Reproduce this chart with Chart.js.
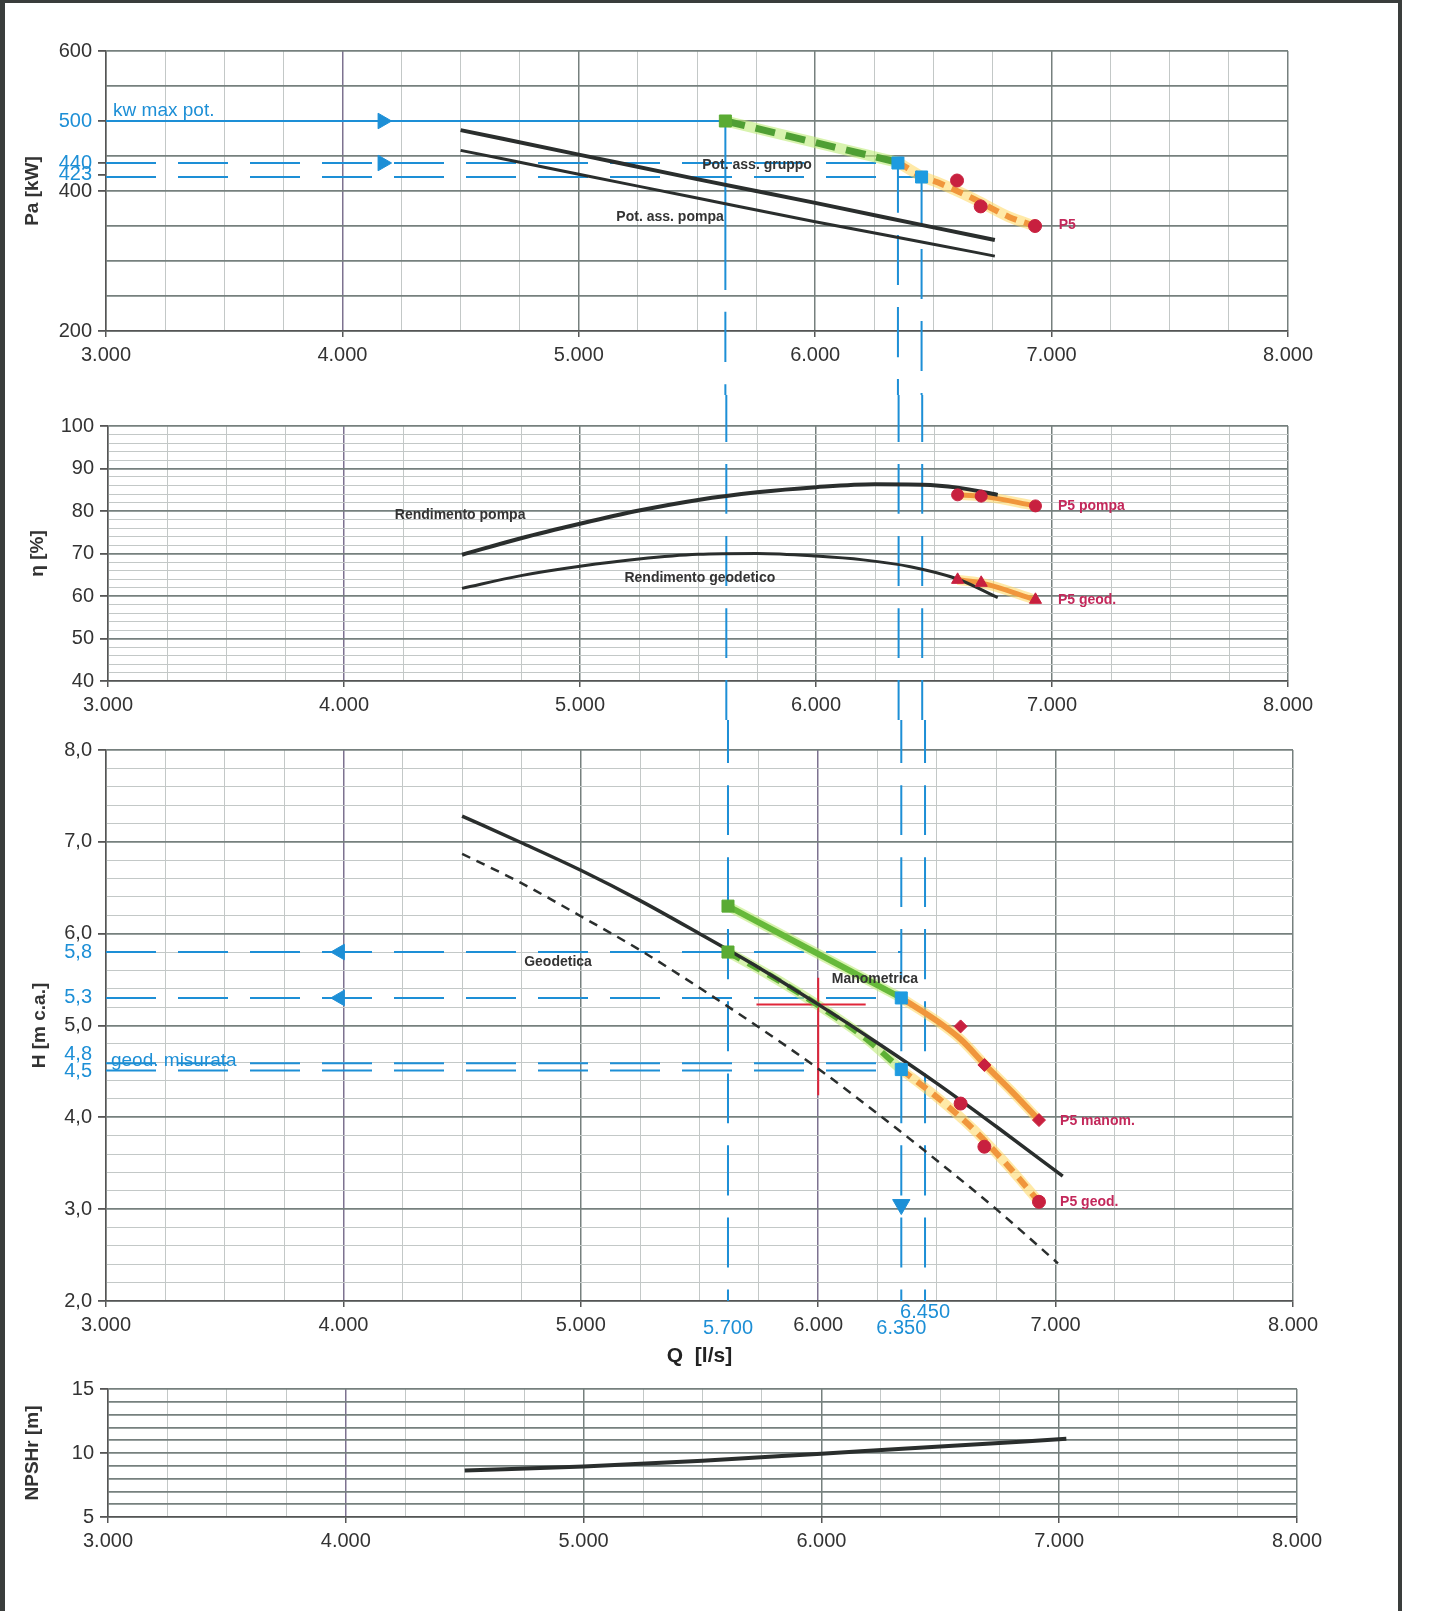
<!DOCTYPE html>
<html>
<head>
<meta charset="utf-8">
<script src="https://cdn.jsdelivr.net/npm/chart.js@4.4.0/dist/chart.umd.min.js"></script>
<style>
  body { margin: 0; background: #fff; }
  #page { position: relative; width: 1447px; height: 1611px; overflow: hidden; background: #fff; }
  .frame { position: absolute; left: 0; top: 0; width: 1402px; height: 1611px; box-sizing: border-box;
           border-left: 5px solid #3a3d3c; border-right: 4px solid #3a3d3c; border-top: 3px solid #3a3d3c;
           pointer-events: none; z-index: 2; }
  .panel { position: absolute; left: 0; width: 1447px; }
</style>
</head>
<body>
<div id="page">
  <div class="panel" style="top:0;height:395px"><canvas id="cPa"></canvas></div>
  <div class="panel" style="top:395px;height:325px"><canvas id="cEta"></canvas></div>
  <div class="panel" style="top:720px;height:650px"><canvas id="cH"></canvas></div>
  <div class="panel" style="top:1370px;height:241px"><canvas id="cNpsh"></canvas></div>
  <div class="frame"></div>
</div>
<script>
// ---- data (Q in l/s) ----
const qLabels = [3000, 4000, 5000, 6000, 7000, 8000];

// guide lines: flow values (labelled 5.700 / 6.350 / 6.450 on the sheet)
const refQ = [5620, 6350, 6450];
const refQLabels = ['5.700', '6.350', '6.450'];

// power panel
const paQ = [4500, 5000, 5500, 6000, 6500, 6760];
const paGruppo = [487, 452, 417, 383, 348, 330];
const paPompa = [458, 424, 390, 356, 324, 307];
const paGreenQ = [5620, 6350];
const paGreenKw = [500, 441];
const paOrangeQ = [6350, 6450, 6520, 6670, 6820, 6930];
const paOrangeKw = [441, 421, 412, 389, 363, 350];
const refKw = [500, 440, 420];
const paTickBlack = [600, 400, 200];
const paTickBlue = [500, 440, 423];

// P5 measured points
const p5Q = [6600, 6700, 6930];
const p5Kw = [415, 378, 350];
const p5EtaPompa = [83.8, 83.5, 81.2];
const p5EtaGeod = [63.8, 63.1, 59.1];
const p5HManom = [4.99, 4.57, 3.97];
const p5HGeod = [4.15, 3.68, 3.08];

// efficiency panel
const etaPompaQ = [4500, 4750, 5000, 5250, 5500, 5750, 6000, 6250, 6450, 6600, 6770];
const etaPompa = [69.7, 73.6, 77.0, 80.1, 82.6, 84.4, 85.6, 86.3, 86.2, 85.5, 83.8];
const etaGeodQ = [4500, 4750, 5000, 5250, 5500, 5750, 6000, 6200, 6400, 6600, 6770];
const etaGeod = [61.8, 64.8, 67.0, 68.7, 69.8, 70.0, 69.4, 68.5, 66.9, 64.0, 59.6];

// head panel
const hManQ = [4500, 4750, 5000, 5250, 5500, 5750, 6000, 6250, 6500, 6750, 7030];
const hMan = [7.28, 6.99, 6.69, 6.36, 6.00, 5.63, 5.23, 4.81, 4.37, 3.90, 3.36];
const hGeoQ = [4500, 4750, 5000, 5250, 5500, 5750, 6000, 6250, 6500, 6750, 7010];
const hGeo = [6.87, 6.55, 6.19, 5.82, 5.41, 4.98, 4.53, 4.04, 3.53, 3.00, 2.41];
const hGreenManQ = [5620, 6350];
const hGreenMan = [6.30, 5.30];
const hOrangeManQ = [6350, 6500, 6600, 6700, 6820, 6930];
const hOrangeMan = [5.30, 5.05, 4.85, 4.58, 4.27, 3.97];
const hGreenGeoQ = [5620, 5800, 6000, 6200, 6350];
const hGreenGeo = [5.80, 5.54, 5.22, 4.86, 4.52];
const hOrangeGeoQ = [6350, 6500, 6650, 6800, 6930];
const hOrangeGeo = [4.52, 4.22, 3.88, 3.47, 3.08];
const refH = [5.8, 5.3, 4.59, 4.51];
const hTickBlue = [5.8, 5.3, 4.68, 4.5];
const hTickBlueLabels = ['5,8', '5,3', '4,8', '4,5'];
const crossQ = [5740, 6000, 6200];
const crossH = [4.24, 5.23, 5.52];

// NPSH panel
const npshQ = [4500, 5000, 5500, 6000, 6500, 7030];
const npsh = [8.64, 8.94, 9.40, 9.95, 10.50, 11.11];

// ---- styling ----
const BLUE = '#1d8fd6';
const BLACK = '#2a2e2d';
const RED = '#c8203f';
const RED_TXT = '#c3285a';
const GREEN = '#66b93a';
const ORANGE = '#f0963c';
const HALO_O = 'rgba(255,215,95,0.55)';
const HALO_G = 'rgba(190,235,120,0.6)';
const GRID_DARK = '#76807e';
const GRID_LIGHT = '#c3c8c7';
const PURPLE = '#7d7290';
const FONT = "'Liberation Sans', Arial, sans-serif";

Chart.defaults.font.family = FONT;
Chart.defaults.color = '#333';

const pts = (qs, vs) => qs.map((q, i) => ({ x: q, y: vs[i] }));
const near = (a, b) => Math.abs(a - b) < 1e-6;
const isMult = (v, s) => near(v / s, Math.round(v / s));
const fmtQ = v => String(v).replace(/\B(?=(\d{3})+(?!\d))/g, '.');

function line(data, color, width, extra) {
  return Object.assign({ data, showLine: true, pointRadius: 0, borderColor: color, borderWidth: width,
    fill: false, clip: false, order: 1, borderCapStyle: 'butt' }, extra || {});
}
function marks(data, style, color, radius, extra) {
  return Object.assign({ data, showLine: false, pointStyle: style, pointRadius: radius,
    backgroundColor: color, borderColor: color, borderWidth: 1, clip: false, order: 0 }, extra || {});
}
const dashBlue = d => line(d, BLUE, 2, { borderDash: [50, 22], order: 3 });

function textPlugin(items) {
  return {
    id: 'txt',
    afterDatasetsDraw(chart) {
      const { ctx, scales: { x, y }, chartArea } = chart;
      ctx.save();
      items.forEach(it => {
        ctx.font = it.font;
        ctx.fillStyle = it.color;
        ctx.textAlign = it.align || 'center';
        ctx.textBaseline = 'middle';
        const py = it.dy !== undefined ? chartArea.bottom + it.dy : y.getPixelForValue(it.v);
        ctx.fillText(it.text, x.getPixelForValue(it.q), py);
      });
      ctx.restore();
    }
  };
}

function qScale(width, extra) {
  return Object.assign({
    type: 'linear', min: 3000, max: 8000,
    ticks: { stepSize: 250, autoSkip: false, maxRotation: 0, padding: 6, font: { size: 20 },
      callback: v => qLabels.includes(v) ? fmtQ(v) : '' },
    grid: {
      color: c => isMult(c.tick.value, 1000) ? (c.tick.value === 4000 ? PURPLE : GRID_DARK) : GRID_LIGHT,
      lineWidth: c => isMult(c.tick.value, 1000) ? 1.5 : 1,
      tickLength: 6,
      tickColor: c => qLabels.includes(c.tick.value) ? '#555' : 'rgba(0,0,0,0)'
    },
    border: { color: '#555', width: 1.5 },
    afterFit: s => { s.height = width; }
  }, extra || {});
}

function valScale(o) {
  return {
    type: 'linear', min: o.min, max: o.max,
    afterBuildTicks: s => {
      const t = [];
      const n = Math.round((o.max - o.min) / o.step);
      for (let i = 0; i <= n; i++) t.push(+(o.min + i * o.step).toFixed(4));
      (o.blue || []).forEach(b => { if (!t.some(v => near(v, b))) t.push(b); });
      t.sort((a, b) => a - b);
      s.ticks = t.map(v => ({ value: v }));
    },
    ticks: {
      autoSkip: false, padding: 6, font: { size: 20 },
      color: c => (o.blue || []).some(b => near(b, c.tick.value)) ? BLUE : '#333',
      callback: v => {
        const bi = (o.blue || []).findIndex(b => near(b, v));
        if (bi >= 0) return o.blueLabels[bi];
        return o.showLabel(v) ? o.fmt(v) : '';
      }
    },
    grid: {
      color: c => {
        const v = c.tick.value;
        if (!isMult(v - o.min, o.step)) return 'rgba(0,0,0,0)';
        return o.isMajor(v) ? GRID_DARK : GRID_LIGHT;
      },
      lineWidth: c => o.isMajor(c.tick.value) ? 1.8 : 1,
      tickLength: 8,
      tickColor: c => o.showLabel(c.tick.value) ? '#555' : 'rgba(0,0,0,0)'
    },
    border: { color: '#555', width: 1.5 },
    title: { display: true, text: o.title, font: { size: 19, weight: 'bold' }, color: '#333',
      padding: { top: o.titlePad, bottom: 0 } },
    afterFit: s => { s.width = o.left; }
  };
}

function build(id, cfg) {
  return new Chart(document.getElementById(id), {
    type: 'scatter',
    data: { datasets: cfg.datasets },
    options: {
      responsive: true, maintainAspectRatio: false, animation: false, events: [],
      layout: { padding: cfg.padding },
      plugins: { legend: { display: false }, tooltip: { enabled: false } },
      elements: { line: { cubicInterpolationMode: 'monotone' } },
      scales: { x: cfg.x, y: cfg.y }
    },
    plugins: [textPlugin(cfg.texts)]
  });
}

// ---- panel 1 : Pa [kW] ----
build('cPa', {
  padding: { top: 51, right: 159, bottom: 0, left: 0 },
  x: qScale(64),
  y: valScale({ min: 200, max: 600, step: 50, left: 106, title: 'Pa [kW]', titlePad: 21,
    blue: paTickBlue, blueLabels: paTickBlue.map(String),
    isMajor: () => true, showLabel: v => paTickBlack.includes(v) || paTickBlue.includes(v), fmt: v => String(v) }),
  datasets: [
    marks(pts(p5Q, p5Kw), 'circle', RED, 6.5),
    marks(pts([refQ[0]], [refKw[0]]), 'rect', '#5aab33', 8.5),
    marks(pts(refQ.slice(1), refKw.slice(1)), 'rect', '#1e9be0', 8.5),
    marks(pts([4170, 4170], [refKw[0], refKw[1]]), 'triangle', BLUE, 9, { rotation: 90 }),
    line(pts(paQ, paGruppo), BLACK, 4),
    line(pts(paQ, paPompa), BLACK, 3),
    line(pts(paGreenQ, paGreenKw), '#4f9f34', 7, { borderDash: [20, 11] }),
    line(pts(paGreenQ, paGreenKw), HALO_G, 11, { order: 2 }),
    line(pts(paOrangeQ, paOrangeKw), ORANGE, 6, { borderDash: [12, 8] }),
    line(pts(paOrangeQ, paOrangeKw), HALO_O, 11, { order: 2 }),
    line(pts([3000, refQ[0]], [refKw[0], refKw[0]]), BLUE, 2, { order: 3 }),
    dashBlue(pts([3000, refQ[1]], [refKw[1], refKw[1]])),
    dashBlue(pts([3000, refQ[2]], [refKw[2], refKw[2]])),
    line(pts([refQ[0], refQ[0]], [refKw[0], 330]), BLUE, 2, { order: 3 }),
    dashBlue(pts([refQ[0], refQ[0]], [330, 100])),
    dashBlue(pts([refQ[1], refQ[1]], [refKw[1], 100])),
    dashBlue(pts([refQ[2], refQ[2]], [refKw[2], 100]))
  ],
  texts: [
    { text: 'kw max pot.', q: 3030, v: 514, font: `19px ${FONT}`, color: BLUE, align: 'left' },
    { text: 'Pot. ass. gruppo', q: 5754, v: 437, font: `bold 14px ${FONT}`, color: '#333' },
    { text: 'Pot. ass. pompa', q: 5386, v: 363, font: `bold 14px ${FONT}`, color: '#333' },
    { text: 'P5', q: 7030, v: 351, font: `bold 14px ${FONT}`, color: RED_TXT, align: 'left' }
  ]
});

// ---- panel 2 : eta [%] ----
build('cEta', {
  padding: { top: 31, right: 159, bottom: 0, left: 0 },
  x: qScale(39, {}),
  y: valScale({ min: 40, max: 100, step: 2, left: 108, title: 'η [%]', titlePad: 26,
    isMajor: v => isMult(v, 10), showLabel: v => isMult(v, 10), fmt: v => String(Math.round(v)) }),
  datasets: [
    marks(pts(p5Q, p5EtaPompa), 'circle', RED, 6),
    marks(pts(p5Q, p5EtaGeod), 'triangle', RED, 7),
    line(pts(etaPompaQ, etaPompa), BLACK, 4),
    line(pts(etaGeodQ, etaGeod), BLACK, 3),
    line(pts(p5Q, p5EtaPompa), ORANGE, 5),
    line(pts(p5Q, p5EtaPompa), HALO_O, 10, { order: 2 }),
    line(pts(p5Q, p5EtaGeod), ORANGE, 5),
    line(pts(p5Q, p5EtaGeod), HALO_O, 10, { order: 2 }),
    ...refQ.map(q => dashBlue(pts([q, q], [108, 30])))
  ],
  texts: [
    { text: 'Rendimento pompa', q: 4492, v: 79.1, font: `bold 14px ${FONT}`, color: '#333' },
    { text: 'Rendimento geodetico', q: 5508, v: 64.2, font: `bold 14px ${FONT}`, color: '#333' },
    { text: 'P5 pompa', q: 7025, v: 81.2, font: `bold 14px ${FONT}`, color: RED_TXT, align: 'left' },
    { text: 'P5 geod.', q: 7025, v: 59.1, font: `bold 14px ${FONT}`, color: RED_TXT, align: 'left' }
  ]
});

// ---- panel 3 : H [m c.a.] ----
const hX = qScale(69, {});
hX.grid.color = c => isMult(c.tick.value, 1000) ? ((c.tick.value === 4000 || c.tick.value === 6000) ? PURPLE : GRID_DARK) : GRID_LIGHT;
hX.title = { display: true, text: 'Q  [l/s]', font: { size: 21, weight: 'bold' }, color: '#222', padding: { top: 0, bottom: 1 } };
build('cH', {
  padding: { top: 30, right: 154, bottom: 0, left: 0 },
  x: hX,
  y: valScale({ min: 2, max: 8, step: 0.2, left: 106, title: 'H [m c.a.]', titlePad: 28,
    blue: hTickBlue, blueLabels: hTickBlueLabels,
    isMajor: v => isMult(v, 1), showLabel: v => isMult(v, 1), fmt: v => v.toFixed(1).replace('.', ',') }),
  datasets: [
    marks(pts(p5Q, p5HManom), 'rectRot', RED, 6.5),
    marks(pts(p5Q, p5HGeod), 'circle', RED, 6.5),
    marks(pts([refQ[0], refQ[0]], [hGreenMan[0], hGreenGeo[0]]), 'rect', '#5aab33', 8.5),
    marks(pts([refQ[1], refQ[1]], [hGreenMan[1], hGreenGeo[hGreenGeo.length - 1]]), 'rect', '#1e9be0', 8.5),
    marks(pts([3985, 3985], [refH[0], refH[1]]), 'triangle', BLUE, 9, { rotation: -90 }),
    marks(pts([refQ[1]], [3.05]), 'triangle', BLUE, 10, { rotation: 180 }),
    line(pts(hManQ, hMan), BLACK, 3.5),
    line(pts(hGeoQ, hGeo), BLACK, 2.5, { borderDash: [9, 7] }),
    line(pts(hGreenManQ, hGreenMan), GREEN, 6),
    line(pts(hGreenManQ, hGreenMan), HALO_G, 10, { order: 2 }),
    line(pts(hOrangeManQ, hOrangeMan), ORANGE, 6),
    line(pts(hOrangeManQ, hOrangeMan), HALO_O, 10, { order: 2 }),
    line(pts(hGreenGeoQ, hGreenGeo), '#5eb036', 6, { borderDash: [14, 9] }),
    line(pts(hGreenGeoQ, hGreenGeo), HALO_G, 10, { order: 2 }),
    line(pts(hOrangeGeoQ, hOrangeGeo), ORANGE, 6, { borderDash: [12, 8] }),
    line(pts(hOrangeGeoQ, hOrangeGeo), HALO_O, 10, { order: 2 }),
    line(pts([crossQ[0], crossQ[2]], [crossH[1], crossH[1]]), '#e0263a', 2),
    line(pts([crossQ[1], crossQ[1]], [crossH[2], crossH[0]]), '#e0263a', 2),
    ...refH.map(h => dashBlue(pts([3000, refQ[1]], [h, h]))),
    ...refQ.map(q => dashBlue(pts([q, q], [8.4, 2])))
  ],
  texts: [
    { text: 'Geodetica', q: 4904, v: 5.69, font: `bold 14px ${FONT}`, color: '#333' },
    { text: 'Manometrica', q: 6239, v: 5.50, font: `bold 14px ${FONT}`, color: '#333' },
    { text: 'P5 manom.', q: 7019, v: 3.96, font: `bold 14px ${FONT}`, color: RED_TXT, align: 'left' },
    { text: 'P5 geod.', q: 7019, v: 3.08, font: `bold 14px ${FONT}`, color: RED_TXT, align: 'left' },
    { text: 'geod. misurata', q: 3021, v: 4.62, font: `19px ${FONT}`, color: BLUE, align: 'left' },
    { text: refQLabels[0], q: refQ[0], dy: 27, font: `20px ${FONT}`, color: BLUE },
    { text: refQLabels[1], q: refQ[1], dy: 27, font: `20px ${FONT}`, color: BLUE },
    { text: refQLabels[2], q: refQ[2], dy: 11, font: `20px ${FONT}`, color: BLUE }
  ]
});

// ---- panel 4 : NPSHr [m] ----
const nY = valScale({ min: 5, max: 15, step: 1, left: 108, title: 'NPSHr [m]', titlePad: 21,
  isMajor: () => true, showLabel: v => isMult(v, 5), fmt: v => String(v) });
build('cNpsh', {
  padding: { top: 19, right: 150, bottom: 0, left: 0 },
  x: qScale(94, {}),
  y: nY,
  datasets: [
    line(pts(npshQ, npsh), BLACK, 4)
  ],
  texts: []
});
</script>
</body>
</html>
